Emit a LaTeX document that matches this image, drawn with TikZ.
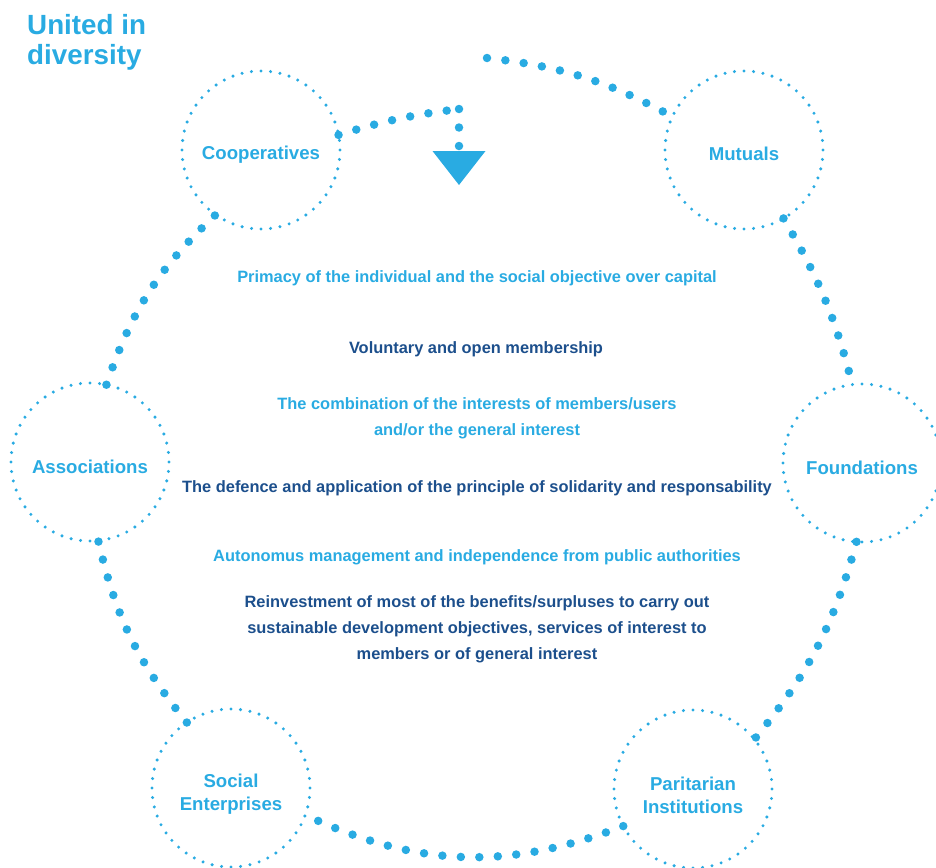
\documentclass[tikz,border=0pt]{standalone}
\usepackage{fontspec}
\setmainfont{Liberation Sans}
\usetikzlibrary{positioning}
\usetikzlibrary{shapes,arrows.meta}
\definecolor{ringblue}{HTML}{29ABE2}
\definecolor{textnavy}{HTML}{1C4F8C}
\newcommand{\lowerlabel}{\rule{0pt}{1.37em}}

\begin{document}
\begin{tikzpicture}[x=0.03cm,y=-0.03cm,
                    family/.style={circle,
                                   inner sep=0mm,outer sep=0,
                                   draw=ringblue,
                                   line width=0.1cm,
                                   line cap=round,
                                   dash pattern=on 0pt off 0.2864cm,
                                   minimum size=4.74cm,
                                   text=ringblue,
                                   font=\fontsize{15.9}{19.6}\selectfont\bfseries,
                                   execute at begin node={\rule{0pt}{1.19em}},
                                   align=center
                                  },
                    ringlink/.style={
                                   draw=ringblue,
                                   line width=0.255cm,
                                   line cap=round,
                                   dash pattern=on 0pt off 0.555cm
                                   },
                    principle/.style={align=center,
                                   font=\fontsize{14}{22.1}\selectfont\bfseries},
                    lightline/.style={principle,text=ringblue},
                    darkline/.style={principle,text=textnavy}
                    ]
\useasboundingbox (0,0) rectangle (936,867);
% title
\node[anchor=north west,inner sep=0,align=left,text=ringblue,
      font=\fontsize{23.7}{25.5}\selectfont\bfseries] (title) at (27,14) {United in\\diversity};
% the six families
\node[family] (coop) at (261,150) {Cooperatives};
\node[family] (mutual) at (744,150) {Mutuals};
\node[family] (assoc) at (90,462) {Associations};
\node[family] (found) at (862,463) {Foundations};
\node[family] (social) at (231,788) {\lowerlabel Social\\Enterprises};
\node[family] (parit) at (693,789) {\lowerlabel Paritarian\\Institutions};
% principles
\node[lightline] (primacy) at (477,278) {Primacy of the individual and the social objective over capital};
\node[darkline] (open) at (476,349) {Voluntary and open membership};
\node[lightline] (interest) at (477,418) {The combination of the interests of members/users\\and/or the general interest};
\node[darkline] (solid) at (477,488) {The defence and application of the principle of solidarity and responsability};
\node[lightline] (auto) at (477,557) {Autonomus management and independence from public authorities};
\node[darkline] (reinvest) at (477,629) {Reinvestment of most of the benefits/surpluses to carry out\\sustainable development objectives, services of interest to\\members or of general interest};
% the ring
\coordinate (ringstart) at (487,58);
\coordinate (turn) at (459,109);
\coordinate (tip) at (459,185);
\draw[ringlink] (coop.11) to[bend left=5] (turn);
\draw[ringlink,-{Triangle[width=1.59cm,length=1.02cm,line width=0pt]}] (turn) -- (tip);
\draw[ringlink] (ringstart) to[bend left=11] (mutual.155);
\draw[ringlink] (mutual.-60) to[bend left=8] (found.97);
\draw[ringlink] (found.-94) to[bend left=12] (parit.39);
\draw[ringlink] (parit.208) to[bend left=23] (social.-20);
\draw[ringlink] (social.124) to[bend left=13] (assoc.-84);
\draw[ringlink] (assoc.78) to[bend left=14] (coop.235);
\end{tikzpicture}
\end{document}
